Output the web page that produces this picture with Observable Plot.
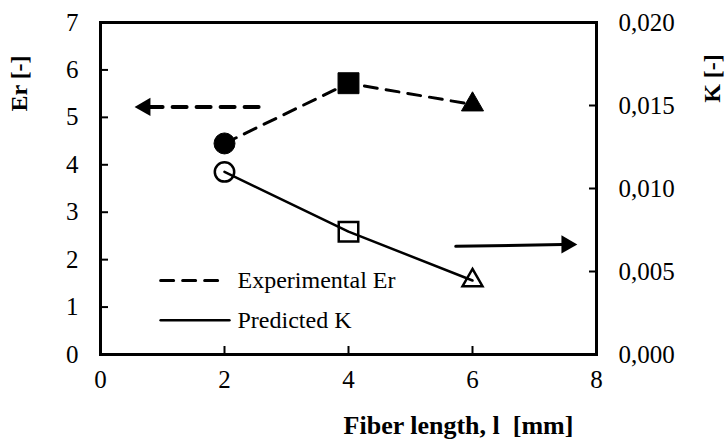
<!DOCTYPE html>
<html><head><meta charset="utf-8">
<script src="https://cdn.jsdelivr.net/npm/d3@7"></script>
<script src="https://cdn.jsdelivr.net/npm/@observablehq/plot@0.6"></script>
<style>body{margin:0;background:#fff} svg, svg text{font-family:"Liberation Serif","Times New Roman",serif !important}</style>
</head><body><div id="chart"></div>
<script>
// ---- data ----
const fiberLength = [2, 4, 6];
const erValues = [4.45, 5.72, 5.27];
const kValues = [0.0110, 0.0074, 0.00446];
const markerSymbols = ["circle", "square", "triangle"];
const xTicks = [0, 2, 4, 6, 8];
const erTicks = [0, 1, 2, 3, 4, 5, 6, 7];
const kTicks = [0, 0.005, 0.010, 0.015, 0.020];
const legendLabels = ["Experimental Er", "Predicted K"];
const titles = {x: "Fiber length, l\u00a0\u00a0[mm]", yLeft: "Er [-]", yRight: "K [-]"};
// annotation positions (data units)
const erArrowX = [2.55, 0.80], erArrowY = [5.22, 5.22], erArrowHead = [0.72, 5.22];
const kArrowX = [5.73, 7.45], kArrowY = [2.28, 2.32], kArrowHead = [7.52, 2.32];
const legendLineX = [0.97, 1.92], legendLineX2 = [0.97, 2.08], legendY = [1.56, 0.72], legendTextX = [2.21, 2.21];

const erMax = 7, kMax = 0.020;
const toEr = k => k * erMax / kMax;
const fmtK = d => d3.format(".3f")(d * kMax / erMax).replace(".", ",");

const er = fiberLength.map((x, i) => ({x, y: erValues[i], s: markerSymbols[i]}));
const kk = fiberLength.map((x, i) => ({x, y: toEr(kValues[i]), s: markerSymbols[i]}));
const rFor = {circle: 10.5, square: 11.8, triangle: 8.2};

function markers(data, filled) {
  return markerSymbols.map(s => Plot.dot(data.filter(d => d.s === s), {
    x: "x", y: "y", symbol: () => s, r: rFor[s] - (filled ? 0 : 0.8),
    fill: filled ? "black" : "none", stroke: "black", strokeWidth: filled ? 1 : 2.5
  }));
}

const font = "'Liberation Serif', 'Times New Roman', serif";
const chart = Plot.plot({
  width: 725, height: 440,
  marginLeft: 100, marginRight: 129, marginTop: 22, marginBottom: 86,
  style: {fontFamily: font, fontSize: "25px", color: "black", background: "white"},
  x: {domain: [0, 8]},
  y: {domain: [0, 7]},
  symbol: {type: "identity"},
  marks: [
    Plot.axisX(xTicks, {tickSize: -8, tickPadding: 24, strokeWidth: 2, fontSize: 25, label: null}),
    Plot.axisY(erTicks, {anchor: "left", tickSize: -8, tickPadding: 30, strokeWidth: 2, fontSize: 25, label: null}),
    Plot.axisY(kTicks.map(toEr), {anchor: "right", tickSize: -8, tickPadding: 30, strokeWidth: 2, fontSize: 25, label: null, tickFormat: fmtK}),
    Plot.frame({stroke: "black", strokeWidth: 3}),
    // series lines
    Plot.line(er, {x: "x", y: "y", stroke: "black", strokeWidth: 3, strokeDasharray: "13,9"}),
    Plot.line(kk, {x: "x", y: "y", stroke: "black", strokeWidth: 2.5}),
    ...markers(er, true),
    ...markers(kk, false),
    // arrows
    Plot.line(erArrowX.map((x, i) => ({x, y: erArrowY[i]})), {x: "x", y: "y", stroke: "black", strokeWidth: 4, strokeDasharray: "14,10"}),
    Plot.dot([erArrowHead], {x: d => d[0], y: d => d[1], symbol: () => "triangle", r: 6.8, rotate: -90, fill: "black"}),
    Plot.line(kArrowX.map((x, i) => ({x, y: kArrowY[i]})), {x: "x", y: "y", stroke: "black", strokeWidth: 3}),
    Plot.dot([kArrowHead], {x: d => d[0], y: d => d[1], symbol: () => "triangle", r: 6.8, rotate: 90, fill: "black"}),
    // legend
    Plot.line(legendLineX.map(x => ({x, y: legendY[0]})), {x: "x", y: "y", stroke: "black", strokeWidth: 3, strokeDasharray: "13,9"}),
    Plot.line(legendLineX2.map(x => ({x, y: legendY[1]})), {x: "x", y: "y", stroke: "black", strokeWidth: 2.5}),
    Plot.text(legendLabels, {x: (d, i) => legendTextX[i], y: (d, i) => legendY[i], text: d => d, textAnchor: "start", fontSize: 24, fill: "black", fontFamily: font}),
    // titles
    Plot.text([titles.x], {frameAnchor: "bottom", textAnchor: "middle", lineAnchor: "middle", dx: 110, dy: 71, fontWeight: "bold", fontSize: 26, fill: "black", fontFamily: font}),
    Plot.text([titles.yLeft], {frameAnchor: "left", textAnchor: "middle", lineAnchor: "middle", dx: -81, dy: -105, rotate: -90, fontWeight: "bold", fontSize: 24, fill: "black", fontFamily: font}),
    Plot.text([titles.yRight], {frameAnchor: "right", textAnchor: "middle", lineAnchor: "middle", dx: 116, dy: -110, rotate: -90, fontWeight: "bold", fontSize: 24, fill: "black", fontFamily: font})
  ]
});
document.getElementById("chart").appendChild(chart);
</script>
</body></html>
